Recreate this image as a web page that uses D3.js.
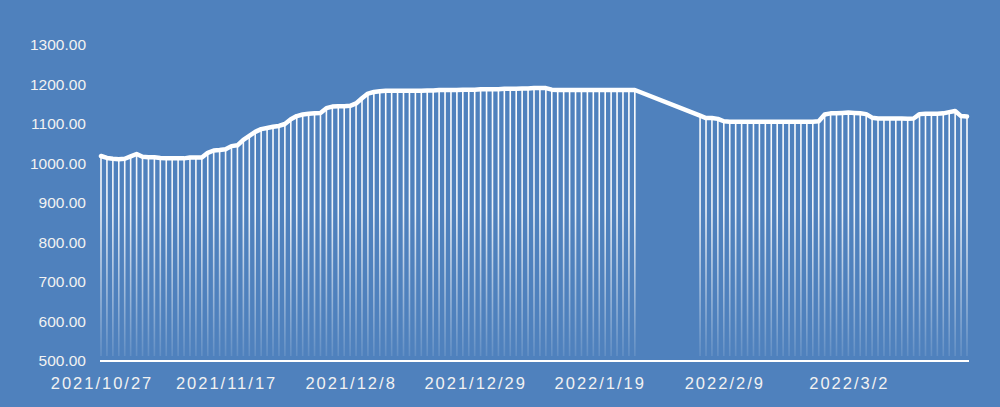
<!DOCTYPE html>
<html>
<head>
<meta charset="utf-8">
<script src="https://cdn.jsdelivr.net/npm/d3@7/dist/d3.min.js"></script>
<style>
	html, body { margin: 0; padding: 0; background: #4F81BD; }
	svg { display: block; }
	.ylab { font-family: "Liberation Sans", Arial, sans-serif; font-size: 15.5px; fill: #F2F2F2; }
	.xlab { font-family: "Liberation Sans", Arial, sans-serif; font-size: 16.5px; fill: #F2F2F2; letter-spacing: 2px; }
</style>
</head>
<body>
<svg id="chart" width="1000" height="407"></svg>
<script>
"use strict";

// first day of the daily series, one value per day (null = no data)
var startDay = "2021-10-27";

var values = [
	1019, 1014, 1012, 1011, 1012, 1018, 1024, 1017, 1016, 1016,
	1014, 1013, 1013, 1013, 1013, 1015, 1015, 1015, 1027, 1033,
	1034, 1036, 1044, 1046, 1060, 1070, 1080, 1087, 1090, 1093,
	1095, 1100, 1112, 1120, 1124, 1126, 1127, 1128, 1140, 1144,
	1145, 1145, 1146, 1152, 1165, 1177, 1181, 1183,
	1184, 1184, 1184, 1184, 1184, 1184, 1184,
	1185, 1185, 1186, 1186, 1186, 1186, 1187, 1187,
	1187, 1188, 1188, 1188, 1188, 1189, 1189, 1189,
	1190, 1190, 1191, 1191, 1191,
	1187,
	1186, 1186, 1186, 1186, 1186, 1186, 1186, 1186, 1186, 1186, 1186, 1186, 1186, 1186,
	null, null, null, null, null, null, null, null, null, null,
	1121, 1115, 1115, 1113, 1107,
	1106, 1106, 1106, 1106, 1106, 1106, 1106, 1106, 1106, 1106, 1106, 1106, 1106, 1106, 1106,
	1107, 1124, 1127, 1127, 1128, 1129, 1128, 1127, 1125, 1116,
	1114, 1114, 1114, 1114, 1114, 1113, 1114,
	1125, 1126, 1126, 1126, 1127, 1130, 1133, 1120, 1119
];

var xTickLabels = ["2021/10/27", "2021/11/17", "2021/12/8", "2021/12/29", "2022/1/19", "2022/2/9", "2022/3/2"];
var yTicks = [500, 600, 700, 800, 900, 1000, 1100, 1200, 1300];

var parse = d3.timeParse("%Y-%m-%d"),
	parseLabel = d3.timeParse("%Y/%m/%d"),
	day0 = parse(startDay);

var data = values.map(function (v, i) {
	return { date: d3.timeDay.offset(day0, i), value: v };
}).filter(function (d) { return d.value !== null; });

var svg = d3.select("#chart");

var x = d3.scaleTime()
	.domain([day0, d3.timeDay.offset(day0, values.length - 1)])
	.range([101, 967]);

var y = d3.scaleLinear()
	.domain([500, 1300])
	.range([361, 45]);

// fading drop lines
var defs = svg.append("defs");
var grad = defs.append("linearGradient")
	.attr("id", "dropfade")
	.attr("gradientUnits", "userSpaceOnUse")
	.attr("x1", 0).attr("x2", 0)
	.attr("y1", y(1200)).attr("y2", y(500));
grad.append("stop").attr("offset", "0").attr("stop-color", "#fff").attr("stop-opacity", 1);
grad.append("stop").attr("offset", "0.45").attr("stop-color", "#fff").attr("stop-opacity", 0.9);
grad.append("stop").attr("offset", "1").attr("stop-color", "#fff").attr("stop-opacity", 0.08);

svg.append("g")
	.selectAll("line")
	.data(data)
	.join("line")
	.attr("x1", function (d) { return x(d.date); })
	.attr("x2", function (d) { return x(d.date); })
	.attr("y1", function (d) { return y(d.value); })
	.attr("y2", y(500) - 5)
	.attr("stroke", "url(#dropfade)")
	.attr("stroke-width", 1.6);

// baseline
svg.append("line")
	.attr("x1", 100).attr("x2", 969)
	.attr("y1", y(500)).attr("y2", y(500))
	.attr("stroke", "#fff")
	.attr("stroke-width", 2);

// main line
var line = d3.line()
	.x(function (d) { return x(d.date); })
	.y(function (d) { return y(d.value); });

svg.append("path")
	.datum(data)
	.attr("d", line)
	.attr("fill", "none")
	.attr("stroke", "#fff")
	.attr("stroke-width", 4.5)
	.attr("stroke-linejoin", "round")
	.attr("stroke-linecap", "round");

// y axis labels
svg.append("g")
	.selectAll("text")
	.data(yTicks)
	.join("text")
	.attr("class", "ylab")
	.attr("x", 86)
	.attr("y", function (d) { return y(d); })
	.attr("dy", "0.35em")
	.attr("text-anchor", "end")
	.text(function (d) { return d3.format(".2f")(d); });

// x axis labels
svg.append("g")
	.selectAll("text")
	.data(xTickLabels)
	.join("text")
	.attr("class", "xlab")
	.attr("x", function (d) { return x(parseLabel(d)) + 1; })
	.attr("y", 383)
	.attr("dy", "0.35em")
	.attr("text-anchor", "middle")
	.text(function (d) { return d; });
</script>
</body>
</html>
